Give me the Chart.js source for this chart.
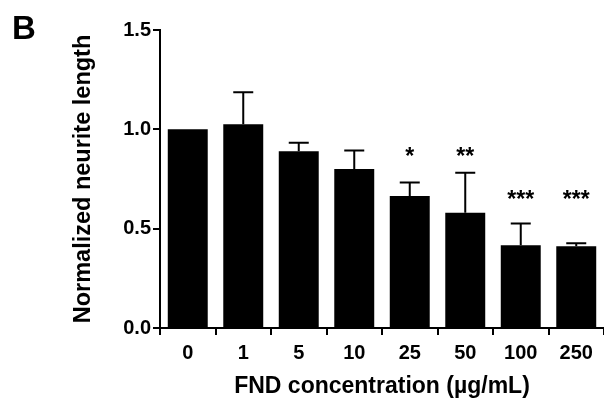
<!DOCTYPE html>
<html lang="en">
<head>
  <meta charset="UTF-8" />
  <script src="https://cdn.jsdelivr.net/npm/chart.js"></script>
  <title>Neurite length</title>
  <style>
    * { padding: 0; margin: 0; }
    html, body { background: #fff; }
    .graph { position: relative; width: 604px; height: 403px; }
  </style>
</head>
<body>
  <div class="graph">
    <canvas id="neuriteChart" aria-label="Normalized neurite length vs FND concentration" role="img"></canvas>
  </div>
<script>
  // Data
  const concentrations = ['0', '1', '5', '10', '25', '50', '100', '250'];
  const meanLength = [1.0, 1.025, 0.89, 0.80, 0.665, 0.58, 0.417, 0.412];
  const errUpper = [0.0, 0.162, 0.043, 0.094, 0.067, 0.202, 0.109, 0.014];
  const sigMarks = ['', '', '', '', '*', '**', '***', '***'];
  const sigLevel = [null, null, null, null, 0.87, 0.87, 0.65, 0.65];
  const yTicks = [0, 0.5, 1.0, 1.5];

  const FONT = '"Liberation Sans", Arial, sans-serif';

  // Draws one-sided error bars and significance stars
  const errorBars = {
    id: 'errorBars',
    afterDatasetsDraw(chart) {
      const ctx = chart.ctx;
      const x = chart.scales.x;
      const y = chart.scales.y;
      ctx.save();
      ctx.strokeStyle = '#000';
      ctx.lineWidth = 2;
      for (var i = 0; i < meanLength.length; i++) {
        const cx = x.getPixelForValue(i);
        const y0 = y.getPixelForValue(meanLength[i]);
        const y1 = y.getPixelForValue(meanLength[i] + errUpper[i]);
        if (errUpper[i] > 0) {
          ctx.beginPath();
          ctx.moveTo(cx, y0);
          ctx.lineTo(cx, y1);
          ctx.moveTo(cx - 10, y1);
          ctx.lineTo(cx + 10, y1);
          ctx.stroke();
        }
        if (sigMarks[i]) {
          ctx.fillStyle = '#000';
          ctx.font = 'bold 23px ' + FONT;
          ctx.textAlign = 'center';
          ctx.textBaseline = 'middle';
          ctx.fillText(sigMarks[i], cx, y.getPixelForValue(sigLevel[i]) + 2);
        }
      }
      ctx.restore();
    }
  };

  // Panel letter
  const panelLabel = {
    id: 'panelLabel',
    afterDraw(chart) {
      const ctx = chart.ctx;
      ctx.save();
      ctx.fillStyle = '#000';
      ctx.font = 'bold 33px ' + FONT;
      ctx.textAlign = 'left';
      ctx.textBaseline = 'alphabetic';
      ctx.fillText('B', 12, 39);
      ctx.restore();
    }
  };

  Chart.defaults.color = '#000';
  Chart.defaults.font.family = FONT;

  new Chart(document.getElementById('neuriteChart'), {
    type: 'bar',
    data: {
      labels: concentrations,
      datasets: [{
        label: 'Normalized neurite length',
        data: meanLength,
        backgroundColor: '#000',
        borderWidth: 0,
        barPercentage: 0.72,
        categoryPercentage: 1.0
      }]
    },
    options: {
      responsive: true,
      maintainAspectRatio: false,
      animation: false,
      layout: { padding: { left: 65, right: 0, top: 30, bottom: 1 } },
      plugins: {
        legend: { display: false },
        tooltip: { enabled: false }
      },
      scales: {
        x: {
          grid: { display: true, drawOnChartArea: false, drawTicks: true, tickLength: 7, color: '#000', lineWidth: 2 },
          border: { display: true, color: '#000', width: 2 },
          ticks: { font: { size: 20, weight: 'bold' }, padding: 6 },
          title: {
            display: true,
            text: 'FND concentration (µg/mL)',
            font: { size: 23, weight: 'bold', lineHeight: 1.0 },
            padding: { top: 4 }
          }
        },
        y: {
          min: 0,
          max: 1.5,
          afterBuildTicks(scale) {
            scale.ticks = yTicks.map(v => ({ value: v }));
          },
          grid: { display: true, drawOnChartArea: false, drawTicks: true, tickLength: 7, color: '#000', lineWidth: 2 },
          border: { display: true, color: '#000', width: 2 },
          ticks: {
            font: { size: 20, weight: 'bold' },
            padding: 2,
            callback: function(value) { return value.toFixed(1); }
          },
          title: {
            display: true,
            text: 'Normalized neurite length',
            font: { size: 23.5, weight: 'bold' },
            padding: { bottom: 24 }
          }
        }
      }
    },
    plugins: [errorBars, panelLabel]
  });
</script>
</body>
</html>
